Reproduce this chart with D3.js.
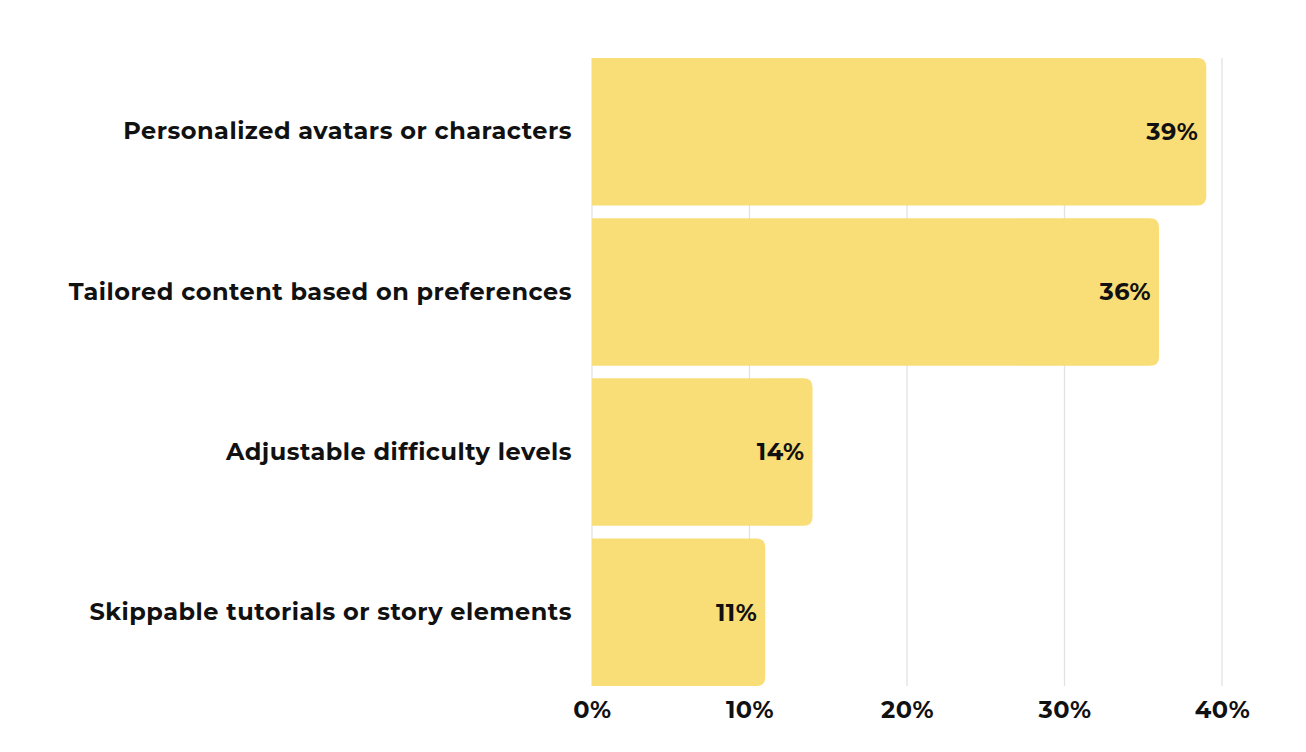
<!DOCTYPE html>
<html>
<head>
<meta charset="utf-8">
<script src="https://cdn.jsdelivr.net/npm/d3@7"></script>
<style>
  body { margin: 0; background: #fff; }
  text { font-family: Montserrat, "DejaVu Sans", sans-serif; font-weight: 700; fill: #111; letter-spacing: 0.5px; }
</style>
</head>
<body>
<div class="canvas"></div>
<script>
// data
const categories = [
  'Personalized avatars or characters',
  'Tailored content based on preferences',
  'Adjustable difficulty levels',
  'Skippable tutorials or story elements'
];
const values = [39, 36, 14, 11];
const ticks = [0, 10, 20, 30, 40];

const width = 1306, height = 752;
const margin = {top: 58, bottom: 66, left: 592, right: 84};

const svg = d3.select('.canvas')
  .append('svg')
    .attr('width', width)
    .attr('height', height);

const x = d3.scaleLinear()
  .domain([0, 40])
  .range([margin.left, width - margin.right]);

const y = d3.scaleBand()
  .domain(categories)
  .range([margin.top, height - margin.bottom])
  .paddingInner(0.079)
  .paddingOuter(0);

// grid lines
svg.append('g')
  .selectAll('line')
  .data(ticks)
  .enter()
  .append('line')
    .attr('x1', d => x(d))
    .attr('x2', d => x(d))
    .attr('y1', margin.top)
    .attr('y2', height - margin.bottom)
    .attr('stroke', '#e2e2e2')
    .attr('stroke-width', 1.3);

// bars with rounded right corners
const r = 9;
const barPath = (x0, x1, y0, h) => {
  const rr = Math.min(r, (x1 - x0) / 2);
  return `M${x0},${y0} H${x1 - rr} Q${x1},${y0} ${x1},${y0 + rr} ` +
    `V${y0 + h - rr} Q${x1},${y0 + h} ${x1 - rr},${y0 + h} H${x0} Z`;
};

svg.append('g')
  .selectAll('path')
  .data(values)
  .enter()
  .append('path')
    .attr('d', (d, i) => barPath(x(0), x(d), y(categories[i]), y.bandwidth()))
    .attr('fill', '#f9dd76');

// value labels
svg.append('g')
  .selectAll('text')
  .data(values)
  .enter()
  .append('text')
    .attr('x', d => x(d) - 8)
    .attr('y', (d, i) => y(categories[i]) + y.bandwidth() / 2)
    .attr('dy', '0.35em')
    .attr('text-anchor', 'end')
    .style('font-size', '24px')
    .text(d => d + '%');

// category labels
const yAxisGroup = svg.append('g')
  .attr('transform', `translate(${margin.left}, 0)`)
  .call(d3.axisLeft(y).tickSize(0).tickPadding(20));
yAxisGroup.select('.domain').remove();
yAxisGroup.selectAll('text')
  .style('font-size', '24px')
  .attr('fill', '#111');

// x axis labels
const xAxisGroup = svg.append('g')
  .attr('transform', `translate(0, ${height - margin.bottom})`)
  .call(d3.axisBottom(x).tickValues(ticks).tickFormat(d => d + '%').tickSize(0).tickPadding(15));
xAxisGroup.select('.domain').remove();
xAxisGroup.selectAll('text')
  .style('font-size', '24px')
  .attr('fill', '#111');
</script>
</body>
</html>
